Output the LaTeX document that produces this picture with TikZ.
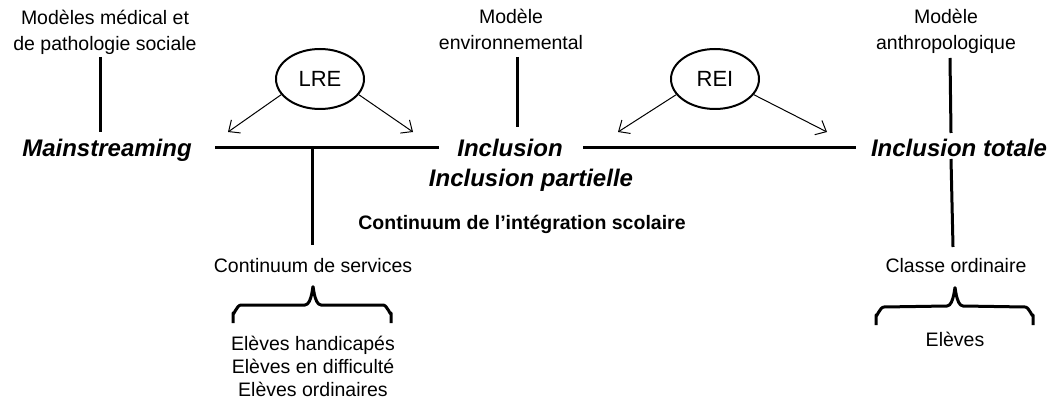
\documentclass[tikz,border=0pt]{standalone}
\usepackage{fontspec}
\setmainfont{Liberation Sans}
\usetikzlibrary{arrows.meta,shapes.geometric,calc}
\tikzset{
  txt/.style={inner sep=0pt, anchor=base, font=\fontsize{19.5}{26}\selectfont},
  big/.style={inner sep=0pt, anchor=base, font=\fontsize{24}{28}\selectfont\bfseries\itshape},
  bld/.style={inner sep=0pt, anchor=base, font=\fontsize{19.5}{26}\selectfont\bfseries},
  thickline/.style={line width=3pt},
  oval/.style={draw, ellipse, line width=2pt, minimum width=88pt, minimum height=60pt, inner sep=0pt, font=\fontsize{22}{26}\selectfont},
  arr/.style={line width=1pt, -{Straight Barb[length=9pt,width=16pt]}},
  bracestyle/.style={line width=3pt, line join=round}
}
\begin{document}
\begin{tikzpicture}[x=1pt,y=-1pt]
\useasboundingbox (0,0) rectangle (1052,401);
% top labels
\node[txt] (med1) at (105,25) {Modèles médical et};
\node[txt] (med2) at (105,51) {de pathologie sociale};
\node[txt] (env1) at (511,24) {Modèle};
\node[txt] (env2) at (511,50) {environnemental};
\node[txt] (ant1) at (946,24) {Modèle};
\node[txt] (ant2) at (946,50) {anthropologique};
% main row
\node[big] (ms) at (107,157) {Mainstreaming};
\node[big] (inc) at (510,157) {Inclusion};
\node[big] (incp) at (531,186) {Inclusion partielle};
\node[big] (inct) at (959,157) {Inclusion totale};
\node[bld] (cont) at (522,229) {Continuum de l’intégration scolaire};
% ovals
\node[oval] (lre) at (320,79) {LRE};
\node[oval] (rei) at (715,79) {REI};
% lower labels
\node[txt] (cs) at (313,272) {Continuum de services};
\node[txt] (co) at (956,272) {Classe ordinaire};
\node[txt] (e1) at (313,350) {Elèves handicapés};
\node[txt] (e2) at (313,373) {Elèves en difficulté};
\node[txt] (e3) at (313,396) {Elèves ordinaires};
\node[txt] (e4) at (955,346) {Elèves};
% coordinates
\coordinate (a1) at (100,57);  \coordinate (a2) at (100,132);
\coordinate (b1) at (517,57);  \coordinate (b2) at (517,127);
\coordinate (c1) at (950,58);  \coordinate (c2) at (951,133);
\coordinate (d1) at (951,159); \coordinate (d2) at (953,247);
\coordinate (h1) at (215,148); \coordinate (h2) at (439,148);
\coordinate (h3) at (583,148); \coordinate (h4) at (856,148);
\coordinate (v1) at (312,149); \coordinate (v2) at (312,245);
\coordinate (t1) at (228,132); \coordinate (t2) at (413,132);
\coordinate (t3) at (618,132); \coordinate (t4) at (827,132);
% lines
\draw[thickline] (a1) -- (a2);
\draw[thickline] (b1) -- (b2);
\draw[thickline] (c1) -- (c2);
\draw[thickline] (d1) -- (d2);
\draw[thickline] (h1) -- (h2);
\draw[thickline] (h3) -- (h4);
\draw[thickline] (v1) -- (v2);
% arrows
\draw[arr] (lre.202) -- (t1);
\draw[arr] (lre.-22) -- (t2);
\draw[arr] (rei.202) -- (t3);
\draw[arr] (rei.-22) -- (t4);
% braces
\coordinate (bl1) at (233,323); \coordinate (blt) at (313,288); \coordinate (bl2) at (391,323);
\coordinate (br1) at (876,325); \coordinate (brt) at (955,289); \coordinate (br2) at (1033,325);
\draw[bracestyle] (bl1) -- ++(0,-10) to[out=-90,in=180] ++(8,-8) -- ($(blt)+(-8,17)$) to[out=0,in=90] (blt)
  to[out=90,in=180] ($(blt)+(8,17)$) -- ($(bl2)+(-8,-18)$) to[out=0,in=-90] ++(8,8) -- (bl2);
\draw[bracestyle] (br1) -- ++(0,-10) to[out=-90,in=180] ++(8,-8) -- ($(brt)+(-8,17)$) to[out=0,in=90] (brt)
  to[out=90,in=180] ($(brt)+(8,17)$) -- ($(br2)+(-8,-18)$) to[out=0,in=-90] ++(8,8) -- (br2);
\end{tikzpicture}
\end{document}
